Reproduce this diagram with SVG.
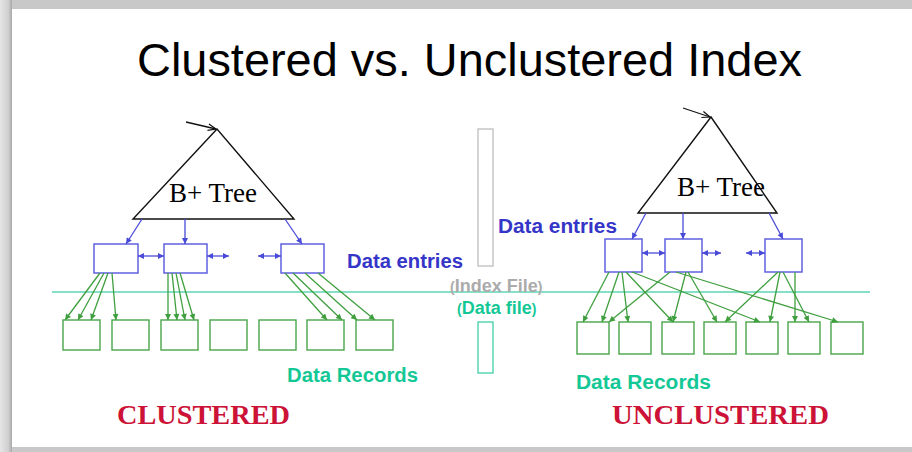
<svg xmlns="http://www.w3.org/2000/svg" width="912" height="452" viewBox="0 0 912 452">
<defs>
<linearGradient id="lg" x1="0" y1="0" x2="1" y2="0">
<stop offset="0" stop-color="#e6e6e6"/><stop offset="0.7" stop-color="#cfcfcf"/><stop offset="1" stop-color="#a8a8a8"/>
</linearGradient>
<marker id="ab" viewBox="0 0 10 10" refX="10" refY="5" markerWidth="7" markerHeight="6" markerUnits="userSpaceOnUse" orient="auto-start-reverse"><path d="M0,0 L10,5 L0,10 z" fill="#4a4ad8"/></marker>
<marker id="ag" viewBox="0 0 10 10" refX="10" refY="5" markerWidth="7" markerHeight="6" markerUnits="userSpaceOnUse" orient="auto"><path d="M0,0 L10,5 L0,10 z" fill="#3f9f3f"/></marker>
<marker id="ak" viewBox="0 0 10 10" refX="10" refY="5" markerWidth="9" markerHeight="8" markerUnits="userSpaceOnUse" orient="auto"><path d="M0,1 L10,5 L0,9" fill="none" stroke="#111" stroke-width="1.5"/></marker>
</defs>
<style>
.tri{fill:none;stroke:#111;stroke-width:1.4}
.ib{fill:#fff;stroke:#6060e0;stroke-width:1.5}
.rb{fill:#fff;stroke:#55aa55;stroke-width:1.5}
.bl{stroke:#4a4ad8;stroke-width:1.3;fill:none;marker-end:url(#ab)}
.dbl{stroke:#4a4ad8;stroke-width:1.3;fill:none;marker-end:url(#ab);marker-start:url(#ab)}
.gl{stroke:#3f9f3f;stroke-width:1.3;fill:none;marker-end:url(#ag)}
.bt{font-family:"Liberation Serif",serif;font-size:27px;fill:#000}
.de{font-family:"Liberation Sans",Arial,sans-serif;font-weight:bold;font-size:20px;fill:#3535c8}
.dr{font-family:"Liberation Sans",Arial,sans-serif;font-weight:bold;font-size:20px;fill:#14c896}
.cl{font-family:"Liberation Serif",serif;font-weight:bold;font-size:28px;fill:#cc1236}
</style>
<rect x="0" y="0" width="912" height="452" fill="#c8c8c8"/>
<rect x="0" y="0" width="12" height="452" fill="url(#lg)"/>
<rect x="12" y="9" width="900" height="438" fill="#fff"/>

<text x="137" y="76" font-family="Liberation Sans, Arial, sans-serif" font-size="46" textLength="665" lengthAdjust="spacingAndGlyphs" fill="#000">Clustered vs. Unclustered Index</text>

<g id="divider">
<line x1="52" y1="292" x2="870" y2="292" stroke="#5cd6b4" stroke-width="1.6"/>
<rect x="478" y="129" width="15" height="137" fill="none" stroke="#bdbdbd" stroke-width="1.3"/>
<rect x="478" y="322" width="15" height="51" fill="none" stroke="#40d0a8" stroke-width="1.3"/>
<text x="450" y="292" font-family="Liberation Sans, Arial, sans-serif" font-weight="bold" fill="#ababab"><tspan font-size="14">(</tspan><tspan font-size="18">Index File</tspan><tspan font-size="14">)</tspan></text>
<text x="457" y="314" font-family="Liberation Sans, Arial, sans-serif" font-weight="bold" fill="#14c896"><tspan font-size="14">(</tspan><tspan font-size="18">Data file</tspan><tspan font-size="14">)</tspan></text>
</g>

<g id="left-tree">
<polygon class="tri" points="217,129 133,219 294,219"/>
<text class="bt" x="213" y="202" text-anchor="middle">B+ Tree</text>
</g>
<g id="left-entries">
<rect class="ib" x="94" y="244" width="44" height="29"/>
<rect class="ib" x="164" y="244" width="43" height="29"/>
<rect class="ib" x="281" y="244" width="43" height="29"/>
</g>
<g id="left-records">
<rect class="rb" x="63" y="320" width="37" height="30"/>
<rect class="rb" x="112" y="320" width="37" height="30"/>
<rect class="rb" x="161" y="320" width="37" height="30"/>
<rect class="rb" x="210" y="320" width="37" height="30"/>
<rect class="rb" x="259" y="320" width="37" height="30"/>
<rect class="rb" x="307" y="320" width="37" height="30"/>
<rect class="rb" x="356" y="320" width="37" height="30"/>
</g>

<g id="right-tree">
<polygon class="tri" points="711,117 638,213 777,213"/>
<text class="bt" x="721" y="196" text-anchor="middle">B+ Tree</text>
</g>
<g id="right-entries">
<rect class="ib" x="605" y="239" width="37" height="33"/>
<rect class="ib" x="665" y="239" width="37" height="33"/>
<rect class="ib" x="765" y="239" width="37" height="33"/>
</g>
<g id="right-records">
<rect class="rb" x="577" y="322" width="32" height="32"/>
<rect class="rb" x="619" y="322" width="32" height="32"/>
<rect class="rb" x="662" y="322" width="32" height="32"/>
<rect class="rb" x="704" y="322" width="32" height="32"/>
<rect class="rb" x="746" y="322" width="32" height="32"/>
<rect class="rb" x="788" y="322" width="32" height="32"/>
<rect class="rb" x="831" y="322" width="32" height="32"/>
</g>

<g id="connectors">
<line x1="186" y1="122" x2="216" y2="129" stroke="#111" stroke-width="1.3" marker-end="url(#ak)"/>
<line x1="683" y1="108" x2="710" y2="117" stroke="#111" stroke-width="1.3" marker-end="url(#ak)"/>
<line class="bl" x1="142" y1="219" x2="126" y2="244"/>
<line class="bl" x1="185" y1="219" x2="185" y2="244"/>
<line class="bl" x1="285" y1="219" x2="302" y2="244"/>
<line class="dbl" x1="138" y1="256" x2="164" y2="256"/>
<line class="dbl" x1="207" y1="256" x2="229" y2="256"/>
<line class="dbl" x1="258" y1="256" x2="281" y2="256"/>
<line class="bl" x1="646" y1="213" x2="632" y2="239"/>
<line class="bl" x1="683" y1="213" x2="683" y2="239"/>
<line class="bl" x1="769" y1="213" x2="783" y2="239"/>
<line class="dbl" x1="642" y1="253" x2="665" y2="253"/>
<line class="dbl" x1="702" y1="253" x2="721" y2="253"/>
<line class="dbl" x1="746" y1="253" x2="765" y2="253"/>

<line class="gl" x1="100" y1="273" x2="65" y2="320"/>
<line class="gl" x1="104" y1="273" x2="78" y2="320"/>
<line class="gl" x1="108" y1="273" x2="91" y2="320"/>
<line class="gl" x1="112" y1="273" x2="116" y2="320"/>
<line class="gl" x1="168" y1="273" x2="168" y2="320"/>
<line class="gl" x1="172" y1="273" x2="177" y2="320"/>
<line class="gl" x1="176" y1="273" x2="185" y2="320"/>
<line class="gl" x1="180" y1="273" x2="194" y2="320"/>
<line class="gl" x1="285" y1="273" x2="327" y2="320"/>
<line class="gl" x1="293" y1="273" x2="342" y2="320"/>
<line class="gl" x1="305" y1="273" x2="357" y2="320"/>
<line class="gl" x1="318" y1="273" x2="375" y2="320"/>

<line class="gl" x1="609" y1="272" x2="583" y2="322"/>
<line class="gl" x1="619" y1="272" x2="602" y2="322"/>
<line class="gl" x1="622" y1="272" x2="628" y2="322"/>
<line class="gl" x1="626" y1="272" x2="673" y2="322"/>
<line class="gl" x1="632" y1="272" x2="760" y2="322"/>
<line class="gl" x1="670" y1="272" x2="609" y2="322"/>
<line class="gl" x1="686" y1="272" x2="673" y2="322"/>
<line class="gl" x1="688" y1="272" x2="717" y2="322"/>
<line class="gl" x1="676" y1="272" x2="838" y2="322"/>
<line class="gl" x1="778" y1="272" x2="725" y2="322"/>
<line class="gl" x1="780" y1="272" x2="770" y2="322"/>
<line class="gl" x1="795" y1="272" x2="795" y2="322"/>
<line class="gl" x1="783" y1="272" x2="809" y2="322"/>
</g>

<g id="labels">
<text class="de" x="347" y="268" textLength="116" lengthAdjust="spacingAndGlyphs">Data entries</text>
<text class="de" x="498" y="233" textLength="119" lengthAdjust="spacingAndGlyphs">Data entries</text>
<text class="dr" x="287" y="382" textLength="131" lengthAdjust="spacingAndGlyphs">Data Records</text>
<text class="dr" x="576" y="389" textLength="135" lengthAdjust="spacingAndGlyphs">Data Records</text>
<text class="cl" x="117" y="424" textLength="173" lengthAdjust="spacingAndGlyphs">CLUSTERED</text>
<text class="cl" x="612" y="424" textLength="217" lengthAdjust="spacingAndGlyphs">UNCLUSTERED</text>
</g>
</svg>
